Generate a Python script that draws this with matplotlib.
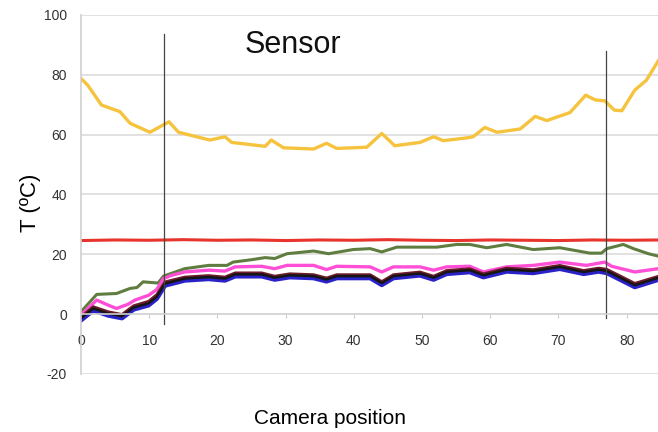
import matplotlib
matplotlib.use('Agg')
import matplotlib.pyplot as plt

plt.rcParams['font.family'] = ['Liberation Sans', 'DejaVu Sans']
plt.rcParams['axes.unicode_minus'] = False

# yellow curve (top)
x_yel = [0, 1, 3, 5.7, 7.2, 10.1, 12.9, 14.3, 18.9, 21.1, 22.1, 27, 27.9, 29.7, 34.1, 36, 37.5,
         41.9, 44.1, 46, 49.7, 51.7, 53.1, 56.5, 57.5, 59.2, 61, 64.4, 66.6, 68.3, 71.7, 74,
         75.4, 76.8, 78.2, 79.3, 81.2, 82.9, 85]
y_yel = [78.8, 76.5, 69.9, 67.7, 63.8, 60.8, 64.3, 60.8, 58.2, 59.3, 57.4, 56.1, 58.2, 55.6, 55.2,
         57.1, 55.4, 55.8, 60.4, 56.3, 57.4, 59.3, 58, 58.9, 59.3, 62.4, 60.8, 61.9, 66.1, 64.7,
         67.4, 73.2, 71.6, 71.3, 68.2, 68, 74.9, 78.2, 86]

# red (reference temperature)
x_red = [0, 5, 10, 15, 20, 25, 30, 35, 40, 45, 50, 55, 60, 65, 70, 75, 80, 85]
y_red = [24.6, 24.8, 24.7, 24.9, 24.7, 24.8, 24.6, 24.8, 24.7, 24.9, 24.7, 24.6, 24.8, 24.7,
         24.6, 24.8, 24.7, 24.8]

# green
x_grn = [0, 2.3, 5.2, 7.2, 8.2, 9.1, 11.3, 12.1, 15.2, 18.7, 21.4, 22.3, 25, 27, 28.4, 30.2,
         34.1, 36.3, 39.9, 42.4, 44.1, 46.3, 52.2, 55.1, 57, 59.5, 62.4, 66.3, 70.2, 74.6, 76.3,
         77.1, 79.5, 81, 83.2, 85]
y_grn = [0.8, 6.6, 6.9, 8.6, 8.9, 10.8, 10.4, 12.7, 15.2, 16.3, 16.3, 17.4, 18.2, 18.9, 18.6,
         20.2, 21.1, 20.2, 21.6, 21.9, 20.8, 22.4, 22.4, 23.3, 23.3, 22.2, 23.3, 21.6, 22.2, 20.4,
         20.4, 21.9, 23.3, 21.9, 20.2, 19.2]

# magenta
x_mag = [0, 2.3, 4, 5.2, 6.9, 7.9, 9.9, 11.1, 12.1, 13.3, 15.2, 18.7, 21.1, 22.6, 26.5, 28.4,
         30.2, 34.1, 36, 37.5, 42.4, 44.1, 45.8, 49.7, 51.7, 53.6, 57, 59, 62.4, 66.3, 70.2,
         74.1, 76.8, 77.8, 81.2, 85]
y_mag = [-0.3, 4.7, 3, 1.9, 3.3, 4.7, 6.3, 8.2, 11.9, 13, 14.1, 14.7, 14.4, 15.8, 16, 15.2,
         16.3, 16.3, 14.9, 16, 15.8, 14.1, 15.8, 15.8, 14.7, 15.8, 16, 14.1, 15.8, 16.3, 17.4,
         16.3, 17.4, 16, 14.1, 15.3]

# dark group: blue, brown, black
x_dark = [0, 1.8, 4, 6, 7.7, 9.9, 11.1, 12.3, 15.2, 18.7, 21.1, 22.6, 26.5, 28.4, 30.6, 34.1,
          36, 37.5, 42.4, 44.1, 45.8, 49.7, 51.7, 53.6, 57, 59, 62.4, 66.3, 70.2, 73.7, 75.9,
          77.1, 81.2, 85]
y_blue = [-2.0, 1.3, -0.4, -1.3, 1.6, 3.0, 5.2, 9.6, 11.3, 11.8, 11.3, 12.7, 12.7, 11.6, 12.4,
          12.1, 11.0, 12.1, 12.1, 9.8, 12.1, 13.0, 11.6, 13.5, 14.1, 12.4, 14.3, 13.8, 15.2,
          13.5, 14.3, 13.8, 9.1, 11.8]
y_brown = [-0.9, 2.5, 0.8, -0.1, 2.8, 4.3, 6.5, 10.8, 12.4, 12.9, 12.4, 13.8, 13.8, 12.7, 13.5,
           13.2, 12.1, 13.2, 13.2, 10.9, 13.2, 14.1, 12.7, 14.6, 15.2, 13.5, 15.4, 14.9, 16.3,
           14.6, 15.4, 15.0, 10.3, 12.9]
y_black = [-1.4, 1.9, 0.2, -0.7, 2.2, 3.6, 5.8, 10.2, 11.9, 12.4, 11.9, 13.3, 13.3, 12.2, 13,
           12.7, 11.6, 12.7, 12.7, 10.4, 12.7, 13.6, 12.2, 14.1, 14.7, 13, 14.9, 14.4, 15.8,
           14.1, 14.9, 14.4, 9.7, 12.4]

# vertical markers: x, ymin, ymax
v_lines = [(12.2, -3.3, 93.7), (77.0, -1.2, 88.0)]

fig = plt.figure(figsize=(6.58, 4.32), dpi=100)
ax = fig.add_axes([0.1231, 0.1343, 0.8769, 0.831])

for yv in [-20, 20, 40, 60, 80, 100]:
    ax.axhline(yv, color='#dcdcdc', lw=1.2, zorder=0)

ax.plot(x_red, y_red, color='#e8342c', lw=2.2)
ax.plot(x_grn, y_grn, color='#5f7d3f', lw=2.2)
ax.plot(x_mag, y_mag, color='#ff4fd6', lw=2.4)
ax.plot(x_dark, y_blue, color='#2a22c8', lw=3.4)
ax.plot(x_dark, y_brown, color='#6e1c2c', lw=2.0)
ax.plot(x_dark, y_black, color='#151515', lw=1.8)
ax.plot(x_yel, y_yel, color='#f5c33e', lw=2.4)

for xv, y0, y1 in v_lines:
    ax.plot([xv, xv], [y0, y1], color='#444444', lw=0.9)

ax.set_xlim(0, 84.6)
ax.set_ylim(-20, 100)

ax.spines['top'].set_visible(False)
ax.spines['right'].set_visible(False)
ax.spines['left'].set_color('#d0d0d0')
ax.spines['left'].set_linewidth(1.2)
ax.spines['bottom'].set_position(('data', 0))
ax.spines['bottom'].set_color('#d0d0d0')
ax.spines['bottom'].set_linewidth(1.2)

ax.set_xticks(range(0, 90, 10))
ax.set_yticks(range(-20, 101, 20))
ax.tick_params(axis='x', length=3, color='#cccccc', labelsize=10, labelcolor='#333333', pad=11)
ax.tick_params(axis='y', length=0, labelsize=10, labelcolor='#333333', pad=10)

ax.text(24.0, 90, 'Sensor', fontsize=22, va='center', ha='left', color='#111111')

fig.text(0.046, 0.53, 'T (ºC)', rotation=90, fontsize=16, ha='center', va='center')
fig.text(0.502, 0.032, 'Camera position', fontsize=15, ha='center', va='center')

fig.savefig('out.png', dpi=100)
